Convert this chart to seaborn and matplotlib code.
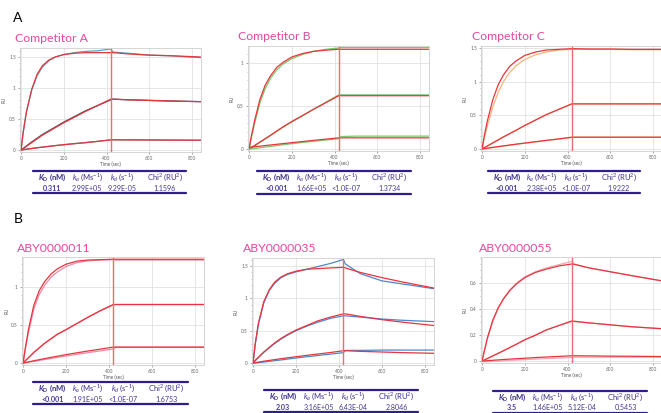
import matplotlib
matplotlib.use("Agg")
import matplotlib.pyplot as plt
import seaborn as sns
from matplotlib.lines import Line2D
from matplotlib.ticker import MultipleLocator

# time grid (sec) shared by every sensorgram
T = [0, 10, 25, 50, 75, 100, 130, 160, 200, 250, 300, 360, 420, 430, 500, 600, 700, 840]

# Competitor A
a_fit_hi = [0, 0.28, 0.61, 0.98, 1.22, 1.36, 1.45, 1.50, 1.54, 1.56, 1.57, 1.57, 1.57, 1.57, 1.55, 1.53, 1.52, 1.50]
a_obs_hi = [0, 0.30, 0.62, 0.97, 1.20, 1.34, 1.44, 1.50, 1.54, 1.57, 1.59, 1.60, 1.63, 1.58, 1.56, 1.53, 1.52, 1.49]
a_fit_mid = [0, 0.02, 0.06, 0.12, 0.18, 0.24, 0.30, 0.36, 0.44, 0.53, 0.62, 0.72, 0.82, 0.82, 0.81, 0.80, 0.79, 0.78]
a_obs_mid = [0, 0.025, 0.065, 0.13, 0.19, 0.25, 0.31, 0.37, 0.45, 0.54, 0.63, 0.72, 0.81, 0.82, 0.81, 0.80, 0.79, 0.78]
a_fit_lo = [0, 0.005, 0.012, 0.024, 0.035, 0.046, 0.058, 0.070, 0.085, 0.102, 0.118, 0.140, 0.165, 0.165, 0.163, 0.162, 0.160, 0.158]
a_obs_lo = [0, 0.006, 0.014, 0.026, 0.037, 0.048, 0.060, 0.072, 0.087, 0.104, 0.120, 0.140, 0.162, 0.165, 0.164, 0.162, 0.160, 0.158]

# Competitor B
b_fit_hi = [0, 0.14, 0.32, 0.57, 0.74, 0.85, 0.95, 1.01, 1.07, 1.11, 1.135, 1.15, 1.16, 1.16, 1.16, 1.16, 1.16, 1.16]
b_obs_hi = [0, 0.12, 0.29, 0.53, 0.70, 0.82, 0.92, 0.99, 1.05, 1.10, 1.135, 1.16, 1.175, 1.18, 1.18, 1.18, 1.18, 1.18]
b_fit_mid = [0, 0.015, 0.04, 0.08, 0.12, 0.16, 0.21, 0.26, 0.32, 0.39, 0.46, 0.54, 0.62, 0.62, 0.62, 0.62, 0.62, 0.62]
b_obs_mid = [0, 0.012, 0.035, 0.075, 0.115, 0.155, 0.205, 0.255, 0.315, 0.385, 0.46, 0.545, 0.63, 0.63, 0.63, 0.63, 0.63, 0.63]
b_fit_lo = [0.02, 0.022, 0.026, 0.033, 0.040, 0.047, 0.055, 0.063, 0.074, 0.087, 0.100, 0.115, 0.130, 0.130, 0.130, 0.130, 0.130, 0.130]
b_obs_lo = [0, 0.002, 0.006, 0.014, 0.022, 0.030, 0.040, 0.050, 0.062, 0.077, 0.090, 0.105, 0.120, 0.145, 0.150, 0.150, 0.150, 0.150]

# Competitor C
c_fit_hi = [0, 0.19, 0.42, 0.73, 0.95, 1.10, 1.23, 1.31, 1.39, 1.44, 1.47, 1.48, 1.49, 1.49, 1.485, 1.485, 1.48, 1.48]
c_obs_hi = [0, 0.15, 0.35, 0.62, 0.84, 1.00, 1.14, 1.24, 1.33, 1.40, 1.44, 1.47, 1.48, 1.48, 1.48, 1.48, 1.475, 1.475]
c_fit_mid = [0, 0.02, 0.045, 0.09, 0.135, 0.18, 0.23, 0.28, 0.35, 0.43, 0.51, 0.59, 0.67, 0.67, 0.67, 0.67, 0.67, 0.67]
c_obs_mid = [0, 0.018, 0.042, 0.087, 0.132, 0.178, 0.228, 0.278, 0.348, 0.428, 0.508, 0.59, 0.67, 0.67, 0.67, 0.67, 0.67, 0.67]
c_fit_lo = [0, 0.005, 0.012, 0.024, 0.035, 0.046, 0.059, 0.072, 0.088, 0.108, 0.128, 0.150, 0.175, 0.175, 0.175, 0.175, 0.175, 0.175]
c_obs_lo = [0, 0.004, 0.010, 0.021, 0.032, 0.043, 0.056, 0.069, 0.085, 0.105, 0.125, 0.148, 0.172, 0.175, 0.175, 0.175, 0.175, 0.175]

# ABY0000011
d_fit_hi = [0, 0.19, 0.44, 0.76, 0.95, 1.07, 1.17, 1.24, 1.30, 1.34, 1.355, 1.36, 1.365, 1.365, 1.365, 1.365, 1.365, 1.365]
d_obs_hi = [0, 0.17, 0.40, 0.71, 0.90, 1.02, 1.13, 1.20, 1.27, 1.32, 1.345, 1.355, 1.36, 1.355, 1.355, 1.355, 1.355, 1.355]
d_fit_mid = [0, 0.03, 0.07, 0.14, 0.20, 0.26, 0.32, 0.38, 0.44, 0.52, 0.60, 0.69, 0.77, 0.77, 0.77, 0.77, 0.77, 0.77]
d_obs_mid = [0, 0.028, 0.068, 0.138, 0.198, 0.257, 0.317, 0.377, 0.437, 0.517, 0.597, 0.687, 0.765, 0.77, 0.77, 0.77, 0.77, 0.77]
d_fit_lo = [0, 0.006, 0.015, 0.030, 0.044, 0.058, 0.074, 0.090, 0.110, 0.134, 0.157, 0.183, 0.21, 0.21, 0.21, 0.21, 0.21, 0.21]
d_obs_lo = [0, 0.004, 0.010, 0.022, 0.034, 0.046, 0.060, 0.074, 0.092, 0.114, 0.136, 0.160, 0.185, 0.205, 0.205, 0.205, 0.205, 0.205]

# ABY0000035
e_fit_hi = [0, 0.30, 0.62, 0.95, 1.13, 1.25, 1.33, 1.38, 1.42, 1.45, 1.46, 1.47, 1.48, 1.47, 1.40, 1.32, 1.25, 1.16]
e_obs_hi = [0, 0.28, 0.60, 0.93, 1.12, 1.23, 1.32, 1.37, 1.41, 1.45, 1.49, 1.54, 1.60, 1.53, 1.38, 1.27, 1.22, 1.15]
e_fit_mid = [0, 0.04, 0.09, 0.17, 0.24, 0.31, 0.38, 0.44, 0.51, 0.58, 0.65, 0.71, 0.76, 0.76, 0.72, 0.67, 0.63, 0.58]
e_obs_mid = [0, 0.035, 0.085, 0.165, 0.235, 0.30, 0.37, 0.43, 0.50, 0.57, 0.63, 0.69, 0.73, 0.73, 0.71, 0.68, 0.66, 0.64]
e_fit_lo = [0, 0.006, 0.014, 0.028, 0.040, 0.052, 0.066, 0.080, 0.097, 0.118, 0.138, 0.162, 0.19, 0.19, 0.18, 0.17, 0.16, 0.15]
e_obs_lo = [0, 0.0, 0.005, 0.015, 0.025, 0.035, 0.047, 0.060, 0.077, 0.097, 0.115, 0.137, 0.16, 0.195, 0.195, 0.20, 0.20, 0.20]

# ABY0000055
f_fit_hi = [0, 0.075, 0.18, 0.315, 0.41, 0.48, 0.545, 0.595, 0.645, 0.685, 0.71, 0.735, 0.75, 0.748, 0.72, 0.69, 0.66, 0.62]
f_obs_hi = [0, 0.07, 0.17, 0.305, 0.405, 0.48, 0.55, 0.60, 0.65, 0.69, 0.72, 0.745, 0.77, 0.75, 0.72, 0.69, 0.66, 0.62]
f_fit_mid = [0, 0.008, 0.02, 0.04, 0.06, 0.08, 0.105, 0.13, 0.165, 0.20, 0.24, 0.275, 0.31, 0.308, 0.295, 0.28, 0.265, 0.25]
f_obs_mid = [0, 0.006, 0.018, 0.038, 0.058, 0.078, 0.103, 0.128, 0.163, 0.20, 0.24, 0.275, 0.305, 0.305, 0.295, 0.28, 0.265, 0.25]
f_fit_lo = [0, 0.001, 0.003, 0.006, 0.009, 0.012, 0.015, 0.018, 0.022, 0.027, 0.031, 0.036, 0.041, 0.041, 0.040, 0.038, 0.037, 0.035]
f_obs_lo = [0, -0.004, -0.004, -0.002, 0.0, 0.002, 0.005, 0.008, 0.011, 0.015, 0.019, 0.023, 0.028, 0.03, 0.03, 0.03, 0.03, 0.03]

titles = ["Competitor A", "Competitor B", "Competitor C", "ABY0000011", "ABY0000035", "ABY0000055"]
kd_vals = ["0.311", "<0.001", "<0.001", "<0.001", "2.03", "3.5"]
ka_vals = ["2.99E+05", "1.66E+05", "2.38E+05", "1.91E+05", "3.16E+05", "1.46E+05"]
kdis_vals = ["9.29E-05", "<1.0E-07", "<1.0E-07", "<1.0E-07", "6.43E-04", "5.12E-04"]
chi_vals = ["1.1596", "1.3734", "1.9222", "1.6753", "2.8046", "0.5453"]
yticks = [[0, 0.5, 1, 1.5], [0, 0.5, 1], [0, 0.5, 1, 1.5], [0, 0.5, 1], [0, 0.5, 1, 1.5], [0, 0.2, 0.4, 0.6]]

fits = [(a_fit_hi, a_fit_mid, a_fit_lo), (b_fit_hi, b_fit_mid, b_fit_lo), (c_fit_hi, c_fit_mid, c_fit_lo),
        (d_fit_hi, d_fit_mid, d_fit_lo), (e_fit_hi, e_fit_mid, e_fit_lo), (f_fit_hi, f_fit_mid, f_fit_lo)]
obs = [(a_obs_hi, a_obs_mid, a_obs_lo), (b_obs_hi, b_obs_mid, b_obs_lo), (c_obs_hi, c_obs_mid, c_obs_lo),
       (d_obs_hi, d_obs_mid, d_obs_lo), (e_obs_hi, e_obs_mid, e_obs_lo), (f_obs_hi, f_obs_mid, f_obs_lo)]

sns.set_theme(style="white")
plt.rcParams['font.family'] = ['Lato', 'DejaVu Sans']
plt.rcParams['mathtext.fontset'] = 'custom'
plt.rcParams['mathtext.rm'] = 'Lato'
plt.rcParams['mathtext.it'] = 'Lato:italic'
plt.rcParams['mathtext.bf'] = 'Lato:bold'
plt.rcParams['mathtext.bfit'] = 'Lato:italic:bold'

W, H = 661, 413
fig = plt.figure(figsize=(W / 100, H / 100), dpi=100)
fig.patch.set_facecolor("white")

def fx(x):
    return x / W

def fy(y):
    return 1 - y / H

# pixel boxes: left, top, right, bottom, ylim
boxes = [
    (20, 48, 201, 152, (-0.032, 1.645)),
    (248, 46, 429, 151, (-0.023, 1.198)),
    (481, 46, 662, 151, (-0.03, 1.53)),
    (22, 257, 204, 365, (-0.026, 1.395)),
    (252, 258, 434, 365, (-0.031, 1.624)),
    (481, 257, 662, 363, (-0.015, 0.804)),
]
title_pos = [(15, 38), (238, 37), (472, 37), (17, 249), (243, 249), (479, 249)]
# table: x0, x1, top line, header y, value y, bottom line
tables = [
    (33, 186, 171, 177.5, 188.5, 193),
    (257, 411, 171, 177.5, 188.5, 194),
    (488, 640, 171, 177.5, 188.5, 193),
    (33, 188, 382, 388, 399.5, 404),
    (264, 418, 390, 396, 407.5, 412),
    (493, 647, 391, 397, 408, 412.5),
]
fit_color = "#e8343c"
obs_colors = [["#4fa6c4", "#3b4a5e", "#6a86a0"], ["#7cc86a"] * 3, ["#f4b57e"] * 3,
              ["#f08aaa"] * 3, ["#4f86d0"] * 3, ["#f2a8b8"] * 3]
minor = [0.1, 0.1, 0.1, 0.1, 0.1, 0.05]
cols = [0.125, 0.355, 0.58, 0.86]
heads = [r"$\mathbfit{K}_\mathbf{D}$ (nM)", r"$k_a$ (Ms$^{-1}$)", r"$k_d$ (s$^{-1}$)", r"Chi$^2$ (RU$^2$)"]

for i in range(6):
    l, t, r, b, yl = boxes[i]
    ax = fig.add_axes([fx(l), fy(b), (r - l) / W, (b - t) / H])
    for j in range(3):
        sns.lineplot(x=T, y=obs[i][j], ax=ax, color=obs_colors[i][j], lw=0.9, estimator=None, sort=False)
        sns.lineplot(x=T, y=fits[i][j], ax=ax, color=fit_color, lw=0.9, estimator=None, sort=False)
    ax.axvline(420, color="#f06a72", lw=1.0)
    ax.set_xlim(-5, 842)
    ax.set_ylim(*yl)
    ax.set_xticks([0, 200, 400, 600, 800])
    ax.set_yticks(yticks[i])
    ax.set_yticklabels([f"{v:g}" for v in yticks[i]])
    ax.yaxis.set_minor_locator(MultipleLocator(minor[i]))
    ax.grid(True, which="major", color="#e2e2e2", lw=0.6)
    ax.tick_params(axis="both", which="major", labelsize=3.4, length=1.5, width=0.4, pad=1.5,
                   colors="#666666", left=True, bottom=True)
    ax.tick_params(axis="y", which="minor", length=1.0, width=0.4, colors="#888888", left=True)
    for s in ax.spines.values():
        s.set_color("#cfcfcf")
        s.set_linewidth(0.6)
    ax.set_xlabel("Time (sec)", fontsize=3.3, labelpad=0.5, color="#555555")
    ax.set_ylabel("RU", fontsize=3.3, labelpad=1.5, color="#555555")

    tx, ty = title_pos[i]
    fig.text(fx(tx), fy(ty), titles[i], fontsize=8.8, color="#e6489f", ha="left", va="center")

    x0, x1, ytop, yh, yv, ybot = tables[i]
    for yy in (ytop, ybot):
        fig.add_artist(Line2D([fx(x0), fx(x1)], [fy(yy), fy(yy)], transform=fig.transFigure,
                              color="#2e1f8a", lw=1.6))
    vals = [kd_vals[i], ka_vals[i], kdis_vals[i], chi_vals[i]]
    for c in range(4):
        xc = fx(x0 + cols[c] * (x1 - x0))
        fw = "bold" if c == 0 else "normal"
        fig.text(xc, fy(yh), heads[c], fontsize=5.5, color="#3a2f8f", ha="center", va="center", fontweight=fw)
        fig.text(xc, fy(yv), vals[c], fontsize=5.1, color="#43389a", ha="center", va="center", fontweight=fw)

fig.text(fx(18), fy(18), "A", fontsize=10, color="black", ha="center", va="center")
fig.text(fx(18), fy(219), "B", fontsize=10, color="black", ha="center", va="center")

fig.savefig("out.png", dpi=100, facecolor="white")
